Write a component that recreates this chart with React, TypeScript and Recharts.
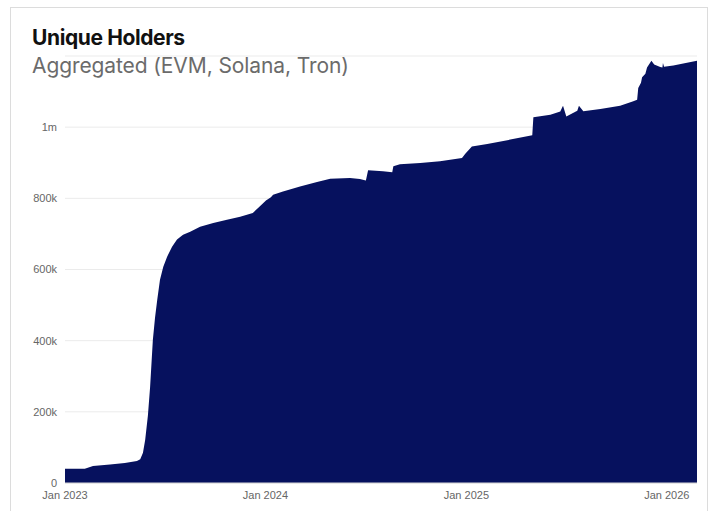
import React from "react";
import { AreaChart, Area, XAxis, YAxis, CartesianGrid } from "recharts";

const dates: string[] = [
  "2023-01-01", "2023-02-06", "2023-02-21", "2023-03-24", "2023-04-20", "2023-05-12",
  "2023-05-18", "2023-05-23", "2023-05-27", "2023-06-01", "2023-06-05", "2023-06-10",
  "2023-06-14", "2023-06-18", "2023-06-23", "2023-06-29", "2023-07-06", "2023-07-15",
  "2023-07-24", "2023-08-04", "2023-08-17", "2023-09-04", "2023-09-28", "2023-10-23",
  "2023-11-16", "2023-12-09", "2023-12-22",
  "2024-01-02", "2024-01-11", "2024-01-15", "2024-02-02", "2024-03-04", "2024-04-04",
  "2024-04-28", "2024-06-03", "2024-06-21", "2024-07-02", "2024-07-06", "2024-08-02",
  "2024-08-19", "2024-08-21", "2024-09-02", "2024-10-09", "2024-11-14", "2024-12-24",
  "2024-12-30", "2025-01-11", "2025-02-08", "2025-03-22", "2025-05-01", "2025-05-03",
  "2025-06-03", "2025-06-21", "2025-06-24", "2025-06-26", "2025-07-02", "2025-07-22",
  "2025-07-25", "2025-08-02", "2025-09-02", "2025-10-08", "2025-11-01", "2025-11-08",
  "2025-11-10", "2025-11-15", "2025-11-17", "2025-11-23", "2025-11-26", "2025-12-04",
  "2025-12-09", "2025-12-20", "2025-12-24", "2025-12-25", "2025-12-27", "2026-01-13",
  "2026-01-31", "2026-02-25",
];

const holders: number[] = [
  40000, 40000, 48000, 52000, 56000, 62000,
  67000, 85000, 121000, 190000, 270000, 402000,
  465000, 515000, 571000, 608000, 636000, 664000,
  684000, 698000, 706000, 720000, 731000, 740000,
  748000, 759000, 778000,
  794000, 803000, 810000, 819000, 833000, 846000,
  855000, 857000, 854000, 850000, 879000, 876000,
  873000, 890000, 896000, 899000, 904000, 913000,
  925000, 946000, 953000, 965000, 977000, 1028000,
  1035000, 1044000, 1054000, 1060000, 1030000, 1046000,
  1060000, 1045000, 1051000, 1060000, 1073000, 1077000,
  1110000, 1125000, 1140000, 1150000, 1168000, 1187000,
  1176000, 1169000, 1168000, 1180000, 1170000, 1173000,
  1179000, 1187000,
];

const yTicks: number[] = [0, 200000, 400000, 600000, 800000, 1000000];
const yTickLabels: string[] = ["0", "200k", "400k", "600k", "800k", "1m"];
const xTickDates: string[] = ["2023-01-01", "2024-01-01", "2025-01-01", "2026-01-01"];
const xTickLabels: string[] = ["Jan 2023", "Jan 2024", "Jan 2025", "Jan 2026"];

const title = "Unique Holders";
const subtitle = "Aggregated (EVM, Solana, Tron)";

const data = dates.map((d, i) => ({ t: Date.parse(d), v: holders[i] }));
const xTicks = xTickDates.map((d) => Date.parse(d));

export default function App() {
  return (
    <div>
      <style>{"html,body{margin:0;padding:0;overflow:hidden;background:#fff}"}</style>
      <div
        style={{
          position: "absolute",
          left: 10,
          top: 7,
          width: 698,
          height: 520,
          border: "1px solid #dcdcdc",
          boxSizing: "border-box",
        }}
      />
      <div
        style={{
          position: "absolute",
          left: 32,
          top: 27,
          fontFamily: "Inter, sans-serif",
          fontWeight: 700,
          fontSize: 21,
          lineHeight: 1,
          letterSpacing: -0.4,
          color: "#111",
          whiteSpace: "nowrap",
        }}
      >
        {title}
      </div>
      <div
        style={{
          position: "absolute",
          left: 32,
          top: 55,
          fontFamily: "Inter, sans-serif",
          fontWeight: 400,
          fontSize: 21,
          lineHeight: 1,
          letterSpacing: -0.1,
          color: "#6b6b6b",
          whiteSpace: "nowrap",
        }}
      >
        {subtitle}
      </div>
      <div style={{ position: "absolute", left: 0, top: 0 }}>
        <AreaChart
          width={712}
          height={511}
          data={data}
          margin={{ top: 56, right: 15, bottom: 0, left: 10 }}
        >
          <CartesianGrid vertical={false} stroke="#ebebeb" strokeWidth={1} />
          <XAxis
            dataKey="t"
            type="number"
            scale="time"
            domain={[Date.parse("2023-01-01"), Date.parse("2026-02-25")]}
            ticks={xTicks}
            tickFormatter={(v: number) => xTickLabels[xTicks.indexOf(v)] ?? ""}
            height={28}
            tickLine={false}
            axisLine={{ stroke: "#d8d8d8" }}
            tick={{ fill: "#666", fontSize: 11, fontFamily: "'Liberation Sans', Arial, sans-serif" }}
            interval={0}
          />
          <YAxis
            type="number"
            domain={[0, 1200000]}
            ticks={yTicks}
            tickFormatter={(v: number) => yTickLabels[yTicks.indexOf(v)] ?? ""}
            width={55}
            tickLine={false}
            axisLine={false}
            tick={{ fill: "#666", fontSize: 11, fontFamily: "'Liberation Sans', Arial, sans-serif" }}
            interval={0}
          />
          <Area
            type="linear"
            dataKey="v"
            stroke="none"
            fill="#06115e"
            fillOpacity={1}
            isAnimationActive={false}
          />
        </AreaChart>
      </div>
    </div>
  );
}
